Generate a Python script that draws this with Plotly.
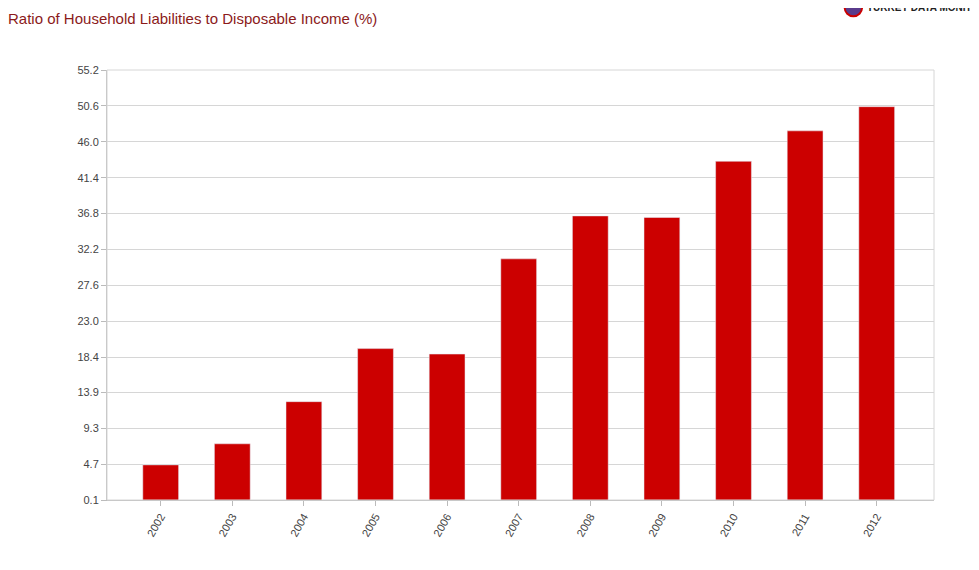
import plotly.graph_objects as go

years = ["2002", "2003", "2004", "2005", "2006", "2007", "2008", "2009", "2010", "2011", "2012"]
ratio = [4.6, 7.3, 12.7, 19.5, 18.8, 31.0, 36.5, 36.3, 43.5, 47.4, 50.5]
tick_vals = [0.1, 4.7, 9.3, 13.9, 18.4, 23.0, 27.6, 32.2, 36.8, 41.4, 46.0, 50.6, 55.2]
tick_text = ["0.1", "4.7", "9.3", "13.9", "18.4", "23.0", "27.6", "32.2", "36.8", "41.4", "46.0", "50.6", "55.2"]

fig = go.Figure(go.Bar(x=years, y=ratio, marker_color="#cc0000", width=0.5))

fig.update_layout(
    width=979, height=570,
    margin=dict(l=99, r=53, t=62, b=78),
    plot_bgcolor="white", paper_bgcolor="white",
    font=dict(family="Liberation Sans, Arial", size=11, color="#444"),
    showlegend=False,
    title=dict(text="Ratio of Household Liabilities to Disposable Income (%)",
               xref="container", x=0.0, xanchor="left", y=0.99, yanchor="top",
               font=dict(size=15, color="#8b1a1a")),
    xaxis=dict(type="category", range=[-0.75, 10.8], tickangle=-60,
               showline=True, linecolor="#bbb", ticks="outside", tickcolor="#bbb"),
    yaxis=dict(range=[0.1, 55.2], tickvals=tick_vals, ticktext=tick_text,
               showgrid=True, gridcolor="#d6d6d6", zeroline=False,
               showline=True, linecolor="#bbb", ticks="outside", tickcolor="#bbb"),
)
fig.add_shape(type="rect", xref="paper", yref="paper", x0=0, y0=0, x1=1, y1=1,
              line=dict(color="#d6d6d6", width=1))
# logo
fig.add_shape(type="circle", xref="paper", yref="paper", x0=0.892, x1=0.913, y0=1.125, y1=1.165,
              fillcolor="#5a3b8c", line=dict(color="#c00", width=2))
fig.add_annotation(text="<b>TURKEY DATA MONITOR</b>", xref="paper", yref="paper",
                   x=0.917, y=1.145, xanchor="left", yanchor="middle", showarrow=False,
                   font=dict(size=10, color="#222"))

fig.write_html("out.html")
